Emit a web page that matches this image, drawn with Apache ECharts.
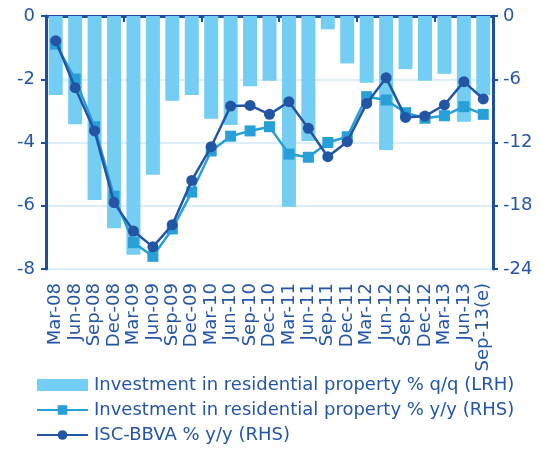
<!DOCTYPE html>
<html><head><meta charset="utf-8">
<script src="https://cdn.jsdelivr.net/npm/echarts@6/dist/echarts.min.js"></script>
<style>html,body{margin:0;padding:0;background:#fff}#c{width:542px;height:462px}</style>
</head><body><div id="c"></div>
<script>
const categories = ['Mar-08','Jun-08','Sep-08','Dec-08','Mar-09','Jun-09','Sep-09','Dec-09','Mar-10','Jun-10','Sep-10','Dec-10','Mar-11','Jun-11','Sep-11','Dec-11','Mar-12','Jun-12','Sep-12','Dec-12','Mar-13','Jun-13','Sep-13(e)'];
const investQQ = [-2.5,-3.42,-5.82,-6.71,-7.55,-5.02,-2.68,-2.5,-3.25,-3.45,-2.22,-2.05,-6.03,-3.95,-0.42,-1.5,-2.11,-4.24,-1.68,-2.05,-1.83,-3.34,-2.5];
const investYY = [-2.66,-5.98,-10.5,-17.1,-21.5,-22.8,-20.2,-16.7,-12.8,-11.4,-10.9,-10.5,-13.1,-13.4,-12.0,-11.45,-7.65,-7.97,-9.17,-9.7,-9.46,-8.6,-9.33];
const iscBBVA = [-2.34,-6.8,-10.9,-17.7,-20.4,-21.9,-19.8,-15.6,-12.4,-8.54,-8.48,-9.33,-8.13,-10.66,-13.35,-11.92,-8.29,-5.85,-9.62,-9.49,-8.44,-6.23,-7.87];
const leftTicks = {min:-8, max:0, interval:2};
const rightTicks = {min:-24, max:0, interval:6};
const seriesNames = ['Investment in residential property % q/q (LRH)','Investment in residential property % y/y (RHS)','ISC-BBVA % y/y (RHS)'];

const txt = '#2456a5', axisCol = '#1f4e9e', font = 'DejaVu Sans';
const chart = echarts.init(document.getElementById('c'), null, {renderer:'canvas'});
chart.setOption({
  animation:false,
  textStyle:{fontFamily:font},
  grid:{left:46,right:49,top:16,bottom:193},
  legend:{
    orient:'vertical', left:36, top:376, bottom:0, padding:0, itemGap:7,
    itemWidth:51, itemHeight:12,
    textStyle:{color:txt, fontSize:18, fontFamily:font, padding:[0,0,0,1]},
    data:[{name:seriesNames[0], icon:'rect'},{name:seriesNames[1]},{name:seriesNames[2]}]
  },
  xAxis:[
    {type:'category', data:categories, position:'bottom',
     axisLine:{show:false}, axisTick:{show:false},
     axisLabel:{rotate:90, interval:0, color:txt, fontSize:18, margin:14, fontFamily:font}},
    {type:'category', data:categories, position:'top',
     axisLine:{show:true, onZero:false, lineStyle:{color:axisCol, width:3}},
     axisTick:{show:true, inside:true, length:6, lineStyle:{color:axisCol, width:2}},
     axisLabel:{show:false}}
  ],
  yAxis:[
    {type:'value', min:leftTicks.min, max:leftTicks.max, interval:leftTicks.interval,
     axisLine:{show:true, lineStyle:{color:axisCol, width:3}},
     axisTick:{show:true, length:5, lineStyle:{color:axisCol, width:2}},
     axisLabel:{color:txt, fontSize:18, margin:11, fontFamily:font},
     splitLine:{show:true, lineStyle:{color:'#cfe9f8', width:1.5}}},
    {type:'value', min:rightTicks.min, max:rightTicks.max, interval:rightTicks.interval,
     axisLine:{show:true, lineStyle:{color:axisCol, width:3}},
     axisTick:{show:true, length:5, lineStyle:{color:axisCol, width:2}},
     axisLabel:{color:txt, fontSize:18, margin:10, fontFamily:font},
     splitLine:{show:false}}
  ],
  series:[
    {name:seriesNames[0], type:'bar', xAxisIndex:0, yAxisIndex:0,
     data:investQQ, barCategoryGap:'28%', itemStyle:{color:'#74cdf2'}, z:1},
    {name:seriesNames[1], type:'line', xAxisIndex:0, yAxisIndex:1,
     data:investYY, symbol:'rect', symbolSize:11, lineStyle:{color:'#279fd9', width:2.5},
     itemStyle:{color:'#279fd9'}, z:3},
    {name:seriesNames[2], type:'line', xAxisIndex:0, yAxisIndex:1,
     data:iscBBVA, symbol:'circle', symbolSize:11, lineStyle:{color:'#2355a5', width:2.5},
     itemStyle:{color:'#2355a5'}, z:4}
  ]
});
</script></body></html>
